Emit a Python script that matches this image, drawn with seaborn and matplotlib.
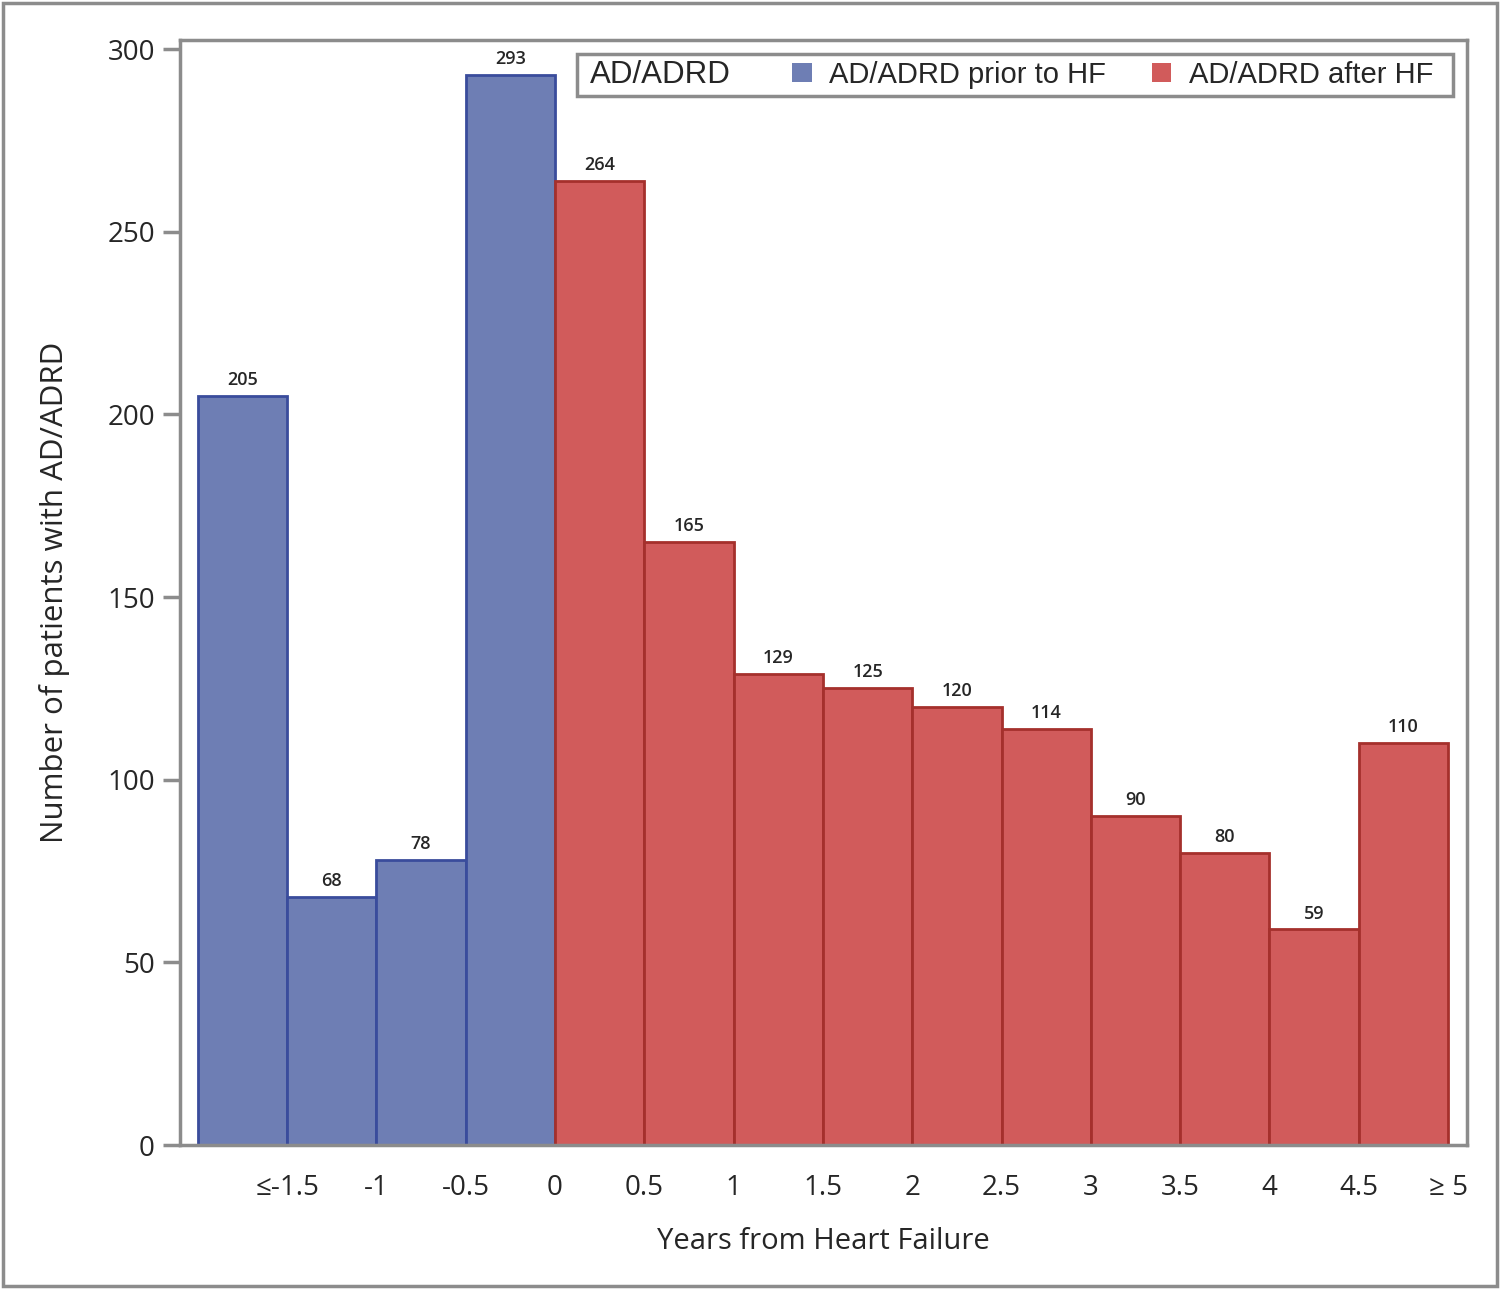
import matplotlib.pyplot as plt
import matplotlib.patches as mpatches
from matplotlib.offsetbox import HPacker, DrawingArea
import seaborn as sns
import numpy as np
import pandas as pd

# bins of half a year, first and last are open-ended (<=-1.5, >=5)
bin_start = [-2.0, -1.5, -1.0, -0.5, 0.0, 0.5, 1.0, 1.5, 2.0, 2.5, 3.0, 3.5, 4.0, 4.5]
counts = [205, 68, 78, 293, 264, 165, 129, 125, 120, 114, 90, 80, 59, 110]
period = ["AD/ADRD prior to HF"] * 4 + ["AD/ADRD after HF"] * 10
tick_pos = [-1.5, -1, -0.5, 0, 0.5, 1, 1.5, 2, 2.5, 3, 3.5, 4, 4.5, 5]
tick_labels = ["≤-1.5", "-1", "-0.5", "0", "0.5", "1", "1.5", "2", "2.5",
               "3", "3.5", "4", "4.5", "≥ 5"]

fills = {"AD/ADRD prior to HF": "#6e7eb4", "AD/ADRD after HF": "#d15b5b"}
edges = {"AD/ADRD prior to HF": "#3a4c9c", "AD/ADRD after HF": "#a5302c"}

df = pd.DataFrame({"start": bin_start, "n": counts, "period": period})
df["mid"] = df["start"] + 0.25

sns.set_style("white")
plt.rcParams["font.family"] = ["Open Sans", "DejaVu Sans"]

fig = plt.figure(figsize=(15, 12.89), dpi=100)
ax = fig.add_axes([0.12, 0.1117, 0.858, 0.8573])

for name in ["AD/ADRD prior to HF", "AD/ADRD after HF"]:
    sub = df[df["period"] == name]
    bins = list(sub["start"]) + [sub["start"].iloc[-1] + 0.5]
    sns.histplot(data=sub, x="mid", weights="n", bins=bins, ax=ax,
                 color=fills[name], edgecolor=edges[name], linewidth=2,
                 alpha=1, stat="count")

for cont in ax.containers:
    ax.bar_label(cont, fmt="%d", padding=5, fontsize=13, fontweight="semibold")

ax.set_xlim(-2.1, 5.106)
ax.set_ylim(0, 302.5)
ax.set_yticks(np.arange(0, 301, 50))
ax.set_xticks(tick_pos)
ax.set_xticklabels(tick_labels)
ax.tick_params(axis="x", length=0, labelsize=20, pad=21)
ax.tick_params(axis="y", length=12, width=2.5, color="#8c8c8c", labelsize=20,
               left=True, pad=6)
for s in ax.spines.values():
    s.set_color("#8c8c8c")
    s.set_linewidth(2.5)

ax.set_xlabel("Years from Heart Failure", fontsize=21, labelpad=18)
ax.set_ylabel("Number of patients with AD/ADRD", fontsize=22.5, labelpad=27)

# legend with its title on the same row as the entries
handles = [mpatches.Patch(facecolor=fills["AD/ADRD prior to HF"], edgecolor="none"),
           mpatches.Patch(facecolor=fills["AD/ADRD after HF"], edgecolor="none")]
labels = ["AD/ADRD prior to HF", "AD/ADRD after HF"]
leg_font = {"family": ["Liberation Sans", "DejaVu Sans"], "size": 21}
title_font = {"family": ["Liberation Sans", "DejaVu Sans"], "size": 22.5}
leg = ax.legend(handles, labels, ncol=2, loc="upper right", title="AD/ADRD",
                bbox_to_anchor=(0.9891, 0.9873), prop=leg_font,
                title_fontproperties=title_font,
                handlelength=0.68, handleheight=0.65, handletextpad=0.6,
                columnspacing=1.55, fancybox=False, framealpha=1,
                borderpad=0.2, borderaxespad=0)
box = leg._legend_box
title_box, handle_box = box.get_children()
inner = HPacker(pad=0, sep=44, align="center", children=[title_box, handle_box])
new_box = HPacker(pad=box.pad, sep=0, align="center",
                  children=[DrawingArea(5, 1), inner, DrawingArea(10, 1)])
new_box.set_figure(fig)
new_box.axes = ax
leg._legend_box = new_box
leg._set_loc(leg._loc)
leg.get_frame().set_edgecolor("#8c8c8c")
leg.get_frame().set_linewidth(2.5)

fig.patches.append(mpatches.Rectangle((0.002, 0.002), 0.996, 0.996,
                                      transform=fig.transFigure, fill=False,
                                      edgecolor="#8c8c8c", linewidth=2.5))

fig.savefig("out.png", dpi=100)
